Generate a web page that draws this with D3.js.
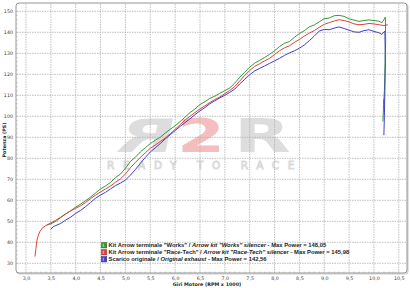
<!DOCTYPE html>
<html>
<head>
<meta charset="utf-8">
<script src="https://cdn.jsdelivr.net/npm/d3@7"></script>
<style>
  html, body { margin: 0; padding: 0; background: #fff; }
  svg { display: block; font-family: "Liberation Sans", Arial, sans-serif; }
</style>
</head>
<body>
<div id="wrapper"></div>
<script>
// dyno curves, [rpm x 1000, PS]
const worksCurve = [
  [3.42, 48.2], [3.5, 48.8], [3.6, 50.0], [3.7, 51.8], [3.8, 53.5], [3.9, 55.0], [4.0, 56.8],
  [4.1, 58.2], [4.2, 59.8], [4.3, 61.5], [4.4, 63.5], [4.5, 65.4], [4.6, 66.8], [4.7, 68.5],
  [4.8, 70.8], [4.9, 72.5], [5.0, 75.2], [5.1, 78.5], [5.2, 80.5], [5.3, 83.0], [5.4, 85.0],
  [5.5, 87.0], [5.6, 88.6], [5.7, 90.0], [5.8, 92.0], [5.9, 93.8], [6.0, 95.5], [6.1, 97.5],
  [6.2, 99.6], [6.3, 101.8], [6.4, 103.5], [6.5, 105.6], [6.6, 107.0], [6.7, 108.5], [6.8, 109.6],
  [6.9, 111.0], [7.0, 112.2], [7.1, 113.5], [7.2, 115.8], [7.3, 118.6], [7.4, 121.0], [7.5, 123.4],
  [7.6, 125.3], [7.7, 126.6], [7.8, 128.0], [7.9, 129.5], [8.0, 131.2], [8.1, 133.2], [8.2, 134.8],
  [8.3, 135.6], [8.4, 137.6], [8.5, 139.4], [8.6, 140.8], [8.7, 142.6], [8.8, 143.5], [8.9, 145.0],
  [9.0, 146.5], [9.1, 146.8], [9.2, 147.9], [9.3, 148.05], [9.4, 147.6], [9.5, 146.4], [9.6, 145.8],
  [9.7, 145.2], [9.8, 145.6], [9.9, 145.9], [10.0, 145.6], [10.1, 145.3], [10.16, 144.6], [10.2, 146.0],
  [10.23, 147.2], [10.235, 136.0], [10.21, 112.0], [10.19, 104.0], [10.2, 108.0], [10.18, 97.5]
]
const raceTechCurve = [
  [3.18, 33.2], [3.2, 37.0], [3.22, 41.0], [3.25, 43.5], [3.28, 45.2], [3.33, 46.8], [3.4, 48.0],
  [3.5, 49.2], [3.6, 50.5], [3.7, 52.0], [3.8, 53.6], [3.9, 55.0], [4.0, 56.2], [4.1, 57.4],
  [4.2, 59.0], [4.3, 60.8], [4.4, 62.5], [4.5, 64.0], [4.6, 65.4], [4.7, 66.8], [4.8, 68.6],
  [4.9, 70.2], [5.0, 72.5], [5.1, 75.5], [5.2, 78.0], [5.3, 80.4], [5.4, 82.6], [5.5, 84.8],
  [5.6, 86.3], [5.7, 88.0], [5.8, 89.6], [5.9, 91.6], [6.0, 93.8], [6.1, 96.0], [6.2, 98.2],
  [6.3, 100.0], [6.4, 101.8], [6.5, 103.5], [6.6, 105.0], [6.7, 106.6], [6.8, 108.0], [6.9, 109.2],
  [7.0, 110.8], [7.1, 112.3], [7.2, 114.2], [7.3, 116.8], [7.4, 119.4], [7.5, 121.8], [7.6, 123.8],
  [7.7, 125.0], [7.8, 126.4], [7.9, 127.6], [8.0, 129.4], [8.1, 131.2], [8.2, 132.6], [8.3, 133.6],
  [8.4, 135.2], [8.5, 136.6], [8.6, 138.2], [8.7, 139.6], [8.8, 140.8], [8.9, 142.4], [9.0, 143.8],
  [9.1, 144.6], [9.2, 145.4], [9.3, 145.98], [9.4, 145.6], [9.5, 145.0], [9.6, 144.0], [9.7, 143.6],
  [9.8, 143.8], [9.9, 144.2], [10.0, 144.0], [10.1, 143.6], [10.2, 143.2], [10.28, 143.6]
]
const originalCurve = [
  [3.5, 46.2], [3.55, 47.5], [3.6, 48.0], [3.7, 49.0], [3.8, 50.6], [3.9, 52.0], [4.0, 53.8],
  [4.1, 55.2], [4.2, 57.0], [4.3, 59.0], [4.4, 61.0], [4.5, 62.5], [4.6, 63.8], [4.7, 65.4],
  [4.8, 67.0], [4.9, 68.2], [5.0, 69.6], [5.1, 72.0], [5.2, 74.6], [5.3, 77.6], [5.4, 80.4],
  [5.5, 83.0], [5.6, 85.0], [5.7, 87.0], [5.8, 89.2], [5.9, 91.2], [6.0, 93.2], [6.1, 95.2],
  [6.2, 97.0], [6.3, 98.8], [6.4, 100.8], [6.5, 102.6], [6.6, 104.2], [6.7, 106.0], [6.8, 107.4],
  [6.9, 108.8], [7.0, 110.0], [7.1, 111.4], [7.2, 113.0], [7.3, 115.4], [7.4, 117.6], [7.5, 119.8],
  [7.6, 121.6], [7.7, 122.8], [7.8, 124.0], [7.9, 125.2], [8.0, 126.4], [8.1, 127.6], [8.2, 129.0],
  [8.3, 130.2], [8.4, 131.2], [8.5, 132.4], [8.6, 134.0], [8.7, 136.0], [8.8, 138.2], [8.9, 140.6],
  [9.0, 141.4], [9.1, 141.2], [9.2, 142.0], [9.3, 142.56], [9.4, 141.8], [9.5, 141.0], [9.6, 140.2],
  [9.7, 140.0], [9.8, 140.8], [9.9, 141.2], [10.0, 140.4], [10.1, 139.8], [10.16, 139.0], [10.22, 140.6],
  [10.23, 125.0], [10.21, 100.0], [10.2, 91.0]
]

const seriesNames = ["works", "raceTech", "original"]
const seriesColors = ["#389838", "#dc4242", "#4040c8"]
// legend texts: [plain, italic, plain]
const legendTexts = [
  ["Kit Arrow terminale \"Works\" / ", "Arrow kit \"Works\" silencer", " - Max Power = 148,05"],
  ["Kit Arrow terminale \"Race-Tech\" / ", "Arrow kit \"Race-Tech\" silencer", " - Max Power = 145,98"],
  ["Scarico originale / ", "Original exhaust", " - Max Power = 142,56"]
]
const xTicks = d3.range(3, 10.51, 0.5)
const yTicks = d3.range(30, 151, 10)

const width = 410
const height = 288
const frame = { left: 16, right: 407, top: 3, bottom: 273 }

const svg = d3.select("#wrapper")
  .append("svg")
    .attr("width", width)
    .attr("height", height)

// scales
const xScale = d3.scaleLinear()
  .domain([3, 10.5])
  .range([26, 398.8])
const yScale = d3.scaleLinear()
  .domain([30, 150])
  .range([263.3, 11.3])

// frame with soft shadow
svg.append("rect")
  .attr("x", frame.left + 1)
  .attr("y", frame.top + 1)
  .attr("width", frame.right - frame.left)
  .attr("height", frame.bottom - frame.top)
  .attr("rx", 3)
  .attr("fill", "none")
  .attr("stroke", "#d0d0d0")
  .attr("stroke-width", 1.2)
svg.append("rect")
  .attr("x", frame.left)
  .attr("y", frame.top)
  .attr("width", frame.right - frame.left)
  .attr("height", frame.bottom - frame.top)
  .attr("rx", 3)
  .attr("fill", "#fff")
  .attr("stroke", "#7a7a7a")
  .attr("stroke-width", 0.8)

// watermark (big letters drawn as clipped text so they sit above the slogan)
const mark = svg.append("g").attr("opacity", 0.9)
const logoLetters = [
  { t: "R", x: 172, sx: -1.6, skew: 8, fill: "#dadada" },
  { t: "2", x: 177, sx: 1.5, skew: 0, fill: "#f3b8b8" },
  { t: "R", x: 234, sx: 1.6, skew: 0, fill: "#dadada" }
]
mark.selectAll(".logo")
  .data(logoLetters)
  .join("text")
    .attr("transform", d => `translate(${d.x},152) scale(${d.sx},1) skewX(${d.skew})`)
    .attr("font-family", "DejaVu Sans")
    .attr("font-weight", "bold")
    .attr("font-size", 46)
    .attr("fill", d => d.fill)
    .text(d => d.t)
mark.append("text")
  .attr("x", 205)
  .attr("y", 169)
  .attr("text-anchor", "middle")
  .attr("font-family", "DejaVu Sans")
  .attr("font-size", 10.5)
  .attr("letter-spacing", 8.6)
  .attr("fill", "none")
  .attr("stroke", "#d6d6d6")
  .attr("stroke-width", 0.9)
  .text("READY TO RACE")

// grid
const grid = svg.append("g")
grid.selectAll(".vgrid")
  .data(xTicks)
  .join("line")
    .attr("x1", d => xScale(d))
    .attr("x2", d => xScale(d))
    .attr("y1", frame.top + 1)
    .attr("y2", frame.bottom - 1)
grid.selectAll(".hgrid")
  .data(yTicks)
  .join("line")
    .attr("x1", frame.left + 1)
    .attr("x2", frame.right - 1)
    .attr("y1", d => yScale(d))
    .attr("y2", d => yScale(d))
grid.selectAll("line")
  .attr("stroke", "#b0b0b0")
  .attr("stroke-width", 0.8)
  .attr("stroke-dasharray", "1.5,1")

// axes
const comma = d => d3.format(".1f")(d).replace(".", ",")
svg.append("g")
  .attr("transform", `translate(0,${frame.bottom})`)
  .call(d3.axisBottom(xScale).tickValues(xTicks).tickFormat(comma).tickSize(0).tickPadding(4))
svg.append("g")
  .attr("transform", `translate(${frame.left - 2},0)`)
  .call(d3.axisLeft(yScale).tickValues(yTicks).tickSize(0).tickPadding(1))
svg.selectAll(".domain").remove()
svg.selectAll(".tick text")
  .attr("font-family", "DejaVu Sans")
  .attr("font-size", 4.8)
  .attr("fill", "#3a3a3a")

// minor ticks on the bottom and left edge
svg.append("g").selectAll("line")
  .data(d3.range(3, 10.51, 0.1))
  .join("line")
    .attr("x1", d => xScale(d))
    .attr("x2", d => xScale(d))
    .attr("y1", frame.bottom - 1.5)
    .attr("y2", frame.bottom)
    .attr("stroke", "#999")
    .attr("stroke-width", 0.5)
svg.append("g").selectAll("line")
  .data(d3.range(30, 151, 2))
  .join("line")
    .attr("x1", frame.left)
    .attr("x2", frame.left + 1.5)
    .attr("y1", d => yScale(d))
    .attr("y2", d => yScale(d))
    .attr("stroke", "#999")
    .attr("stroke-width", 0.5)

// axis titles
svg.append("text")
  .attr("x", 207)
  .attr("y", 286)
  .attr("text-anchor", "middle")
  .attr("font-family", "DejaVu Sans")
  .attr("font-weight", "bold")
  .attr("font-size", 4.8)
  .attr("fill", "#222")
  .text("Giri Motore (RPM x 1000)")
svg.append("text")
  .attr("transform", "translate(5.5,140) rotate(-90)")
  .attr("text-anchor", "middle")
  .attr("font-family", "DejaVu Sans")
  .attr("font-weight", "bold")
  .attr("font-size", 4.8)
  .attr("fill", "#222")
  .text("Potenza (PS)")

// curves
const line = d3.line()
  .x(d => xScale(d[0]))
  .y(d => yScale(d[1]))
const curves = [worksCurve, raceTechCurve, originalCurve]
svg.append("g")
  .selectAll("path")
  .data(curves)
  .join("path")
    .attr("d", line)
    .attr("fill", "none")
    .attr("stroke", (d, i) => seriesColors[i])
    .attr("stroke-width", 1)
    .attr("stroke-linejoin", "round")

// legend
const legend = svg.append("g")
  .selectAll("g")
  .data(seriesNames)
  .join("g")
    .attr("transform", (d, i) => `translate(101.5,${245.3 + i * 7})`)
legend.append("rect")
  .attr("x", 0)
  .attr("y", -2.6)
  .attr("width", 5.2)
  .attr("height", 5.2)
  .attr("fill", (d, i) => seriesColors[i])
  .attr("stroke", (d, i) => d3.color(seriesColors[i]).darker(1))
  .attr("stroke-width", 0.6)
legend.append("rect")
  .attr("x", 1.2)
  .attr("y", -1.6)
  .attr("width", 1.4)
  .attr("height", 3.2)
  .attr("fill", "#fff")
  .attr("opacity", 0.45)
const legendLabel = legend.append("text")
  .attr("x", 7)
  .attr("y", 2)
  .attr("font-family", "Liberation Sans")
  .attr("font-weight", "bold")
  .attr("font-size", 5.85)
  .attr("fill", "#222")
legendLabel.selectAll("tspan")
  .data((d, i) => legendTexts[i].map((t, j) => ({ t, italic: j === 1 })))
  .join("tspan")
    .attr("font-style", d => d.italic ? "italic" : "normal")
    .text(d => d.t)
</script>
</body>
</html>
